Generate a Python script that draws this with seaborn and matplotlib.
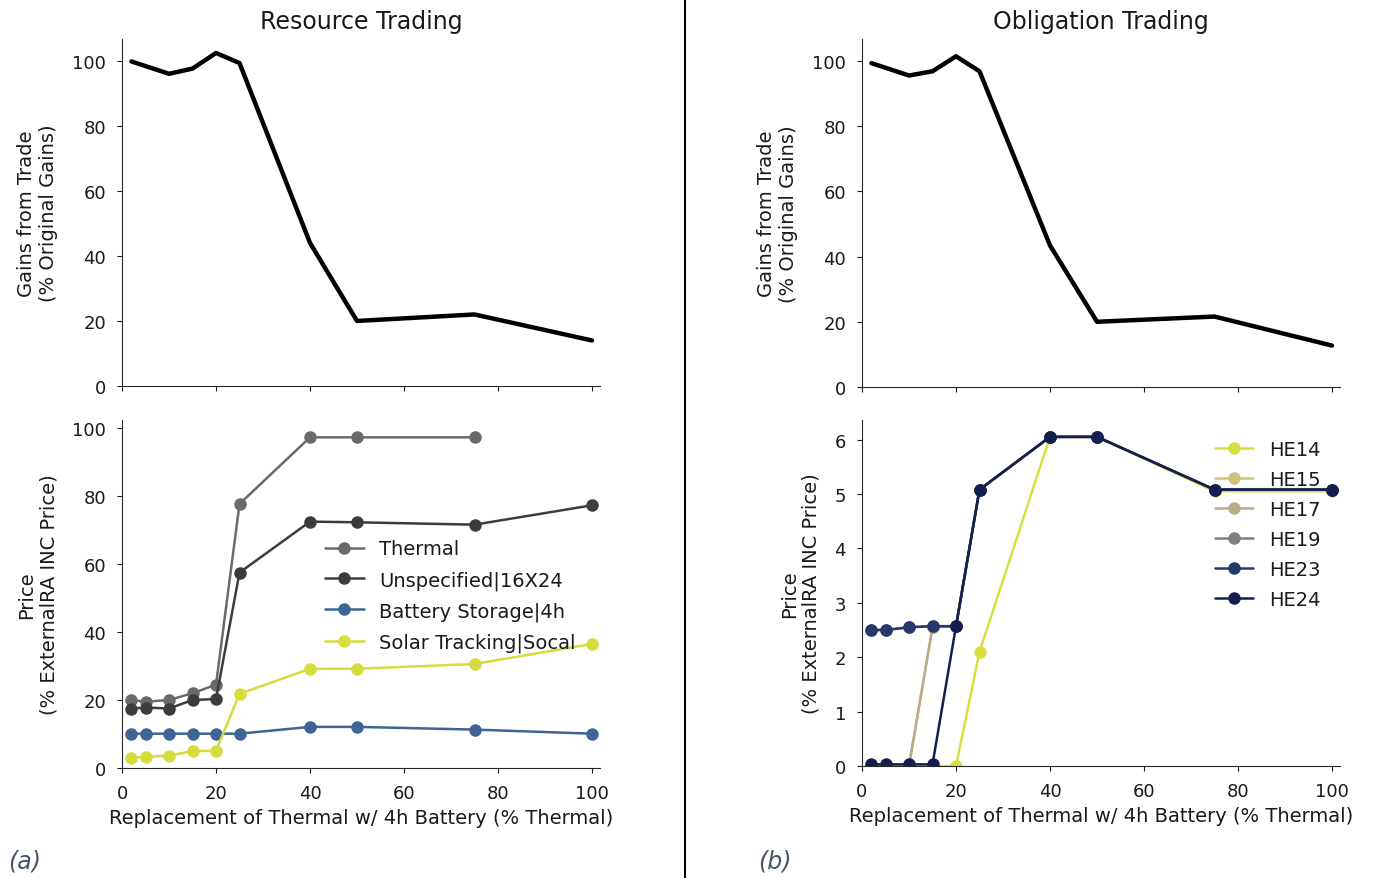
import pandas as pd
import seaborn as sns
import matplotlib.pyplot as plt
from matplotlib.lines import Line2D

# x positions (% thermal replaced)
replacement = [2, 5, 10, 15, 20, 25, 40, 50, 75, 100]

# gains from trade (% of original), left = resource trading, right = obligation trading
gains_x = [2, 10, 15, 20, 25, 40, 50, 75, 100]
gains_resource = [99.8, 96.0, 97.6, 102.4, 99.3, 44.0, 20.0, 22.0, 14.0]
gains_obligation = [99.3, 95.5, 96.8, 101.4, 96.8, 43.4, 20.0, 21.6, 12.7]

# resource trading prices (% ExternalRA INC price)
resource_names = ['Thermal', 'Unspecified|16X24', 'Battery Storage|4h', 'Solar Tracking|Socal']
price_thermal = [20.0, 19.5, 20.0, 22.0, 24.5, 77.7, 97.3, 97.3, 97.3, None]
price_unspecified = [17.5, 17.8, 17.5, 20.0, 20.3, 57.5, 72.5, 72.3, 71.6, 77.3]
price_battery = [10.1, 10.1, 10.1, 10.1, 10.1, 10.1, 12.1, 12.1, 11.3, 10.1]
price_solar = [3.0, 3.3, 3.6, 5.0, 5.0, 21.8, 29.2, 29.2, 30.6, 36.5]

# obligation trading prices by hour
hour_names = ['HE14', 'HE15', 'HE17', 'HE19', 'HE23', 'HE24']
price_he14 = [0, 0, 0, 0, 0, 2.1, 6.05, 6.05, 5.05, 5.05]
price_he15 = [0, 0, 0, 2.55, 2.57, 5.08, 6.05, 6.05, 5.08, 5.08]
price_he17 = [0, 0, 0, 2.55, 2.57, 5.08, 6.05, 6.05, 5.08, 5.08]
price_he19 = [2.5, 2.5, 2.55, 2.57, 2.57, 5.08, 6.05, 6.05, 5.08, 5.08]
price_he23 = [2.5, 2.5, 2.55, 2.57, 2.57, 5.08, 6.05, 6.05, 5.08, 5.08]
price_he24 = [0.03, 0.03, 0.03, 0.03, 2.57, 5.08, 6.05, 6.05, 5.08, 5.08]

resource_colors = ['#6a6a6a', '#3c3c3c', '#3f6596', '#d6dc3c']
hour_colors = ['#d8e040', '#cfc47c', '#b8ad88', '#7f7f7d', '#25396c', '#141f50']


def long_frame(names, series):
    rows = []
    for name, vals in zip(names, series):
        for x, v in zip(replacement, vals):
            if v is not None:
                rows.append({'x': x, 'price': v, 'name': name})
    return pd.DataFrame(rows)


df_res = long_frame(resource_names, [price_thermal, price_unspecified, price_battery, price_solar])
df_obl = long_frame(hour_names, [price_he14, price_he15, price_he17, price_he19, price_he23, price_he24])

sns.set_style('ticks')
plt.rcParams['font.family'] = ['DejaVu Sans']
plt.rcParams['text.color'] = '#1a1a1a'
plt.rcParams['axes.labelcolor'] = '#1a1a1a'
plt.rcParams['xtick.color'] = '#1a1a1a'
plt.rcParams['ytick.color'] = '#1a1a1a'

W, H = 1375, 879
fig = plt.figure(figsize=(W / 100, H / 100), dpi=100)


def px_axes(x0, y_top, x1, y_bot):
    return fig.add_axes([x0 / W, 1 - y_bot / H, (x1 - x0) / W, (y_bot - y_top) / H])


ax_lt = px_axes(122, 40, 600, 387)
ax_lb = px_axes(122, 421, 600, 769)
ax_rt = px_axes(862, 40, 1340, 388)
ax_rb = px_axes(862, 421, 1340, 767)

for ax, g in [(ax_lt, gains_resource), (ax_rt, gains_obligation)]:
    sns.lineplot(x=gains_x, y=g, ax=ax, color='black', linewidth=3.2)
    ax.set_ylim(0, 106.7)
    ax.set_yticks([0, 20, 40, 60, 80, 100])
    ax.set_ylabel('Gains from Trade\n(% Original Gains)', fontsize=14, labelpad=10)
    ax.tick_params(labelbottom=False)

sns.lineplot(data=df_res, x='x', y='price', hue='name', hue_order=resource_names,
             palette=resource_colors, marker='o', markersize=9, markeredgewidth=0,
             linewidth=1.8, ax=ax_lb)
ax_lb.set_ylim(0, 102.4)
ax_lb.set_yticks([0, 20, 40, 60, 80, 100])
ax_lb.legend(frameon=False, loc='upper left', bbox_to_anchor=(0.388, 0.707),
             fontsize=14, labelspacing=0.6, handlelength=2.0)

sns.lineplot(data=df_obl, x='x', y='price', hue='name', hue_order=hour_names,
             palette=hour_colors, marker='o', markersize=9, markeredgewidth=0,
             linewidth=1.8, ax=ax_rb)
ax_rb.set_ylim(0, 6.36)
ax_rb.set_yticks([0, 1, 2, 3, 4, 5, 6])
ax_rb.legend(frameon=False, loc='upper left', bbox_to_anchor=(0.701, 0.992),
             fontsize=14, labelspacing=0.56, handlelength=2.0)

for ax in [ax_lb, ax_rb]:
    ax.set_ylabel('Price\n(% ExternalRA INC Price)', fontsize=14, labelpad=10)
    ax.set_xlabel('Replacement of Thermal w/ 4h Battery (% Thermal)', fontsize=14, labelpad=4)

for ax in [ax_lt, ax_lb, ax_rt, ax_rb]:
    ax.set_xlim(0, 101.7)
    ax.set_xticks([0, 20, 40, 60, 80, 100])
    ax.tick_params(labelsize=13, pad=8)
    sns.despine(ax=ax)

ax_lt.set_title('Resource Trading', fontsize=17, pad=8)
ax_rt.set_title('Obligation Trading', fontsize=17, pad=8)

fig.add_artist(Line2D([685 / W, 685 / W], [0, 1], color='black', linewidth=1.5,
                      transform=fig.transFigure))
fig.text(8 / W, 1 - 862 / H, '(a)', fontsize=17, style='italic', color='#44546a', va='center')
fig.text(758 / W, 1 - 862 / H, '(b)', fontsize=17, style='italic', color='#44546a', va='center')

fig.savefig('out.png', dpi=100, facecolor='white')
